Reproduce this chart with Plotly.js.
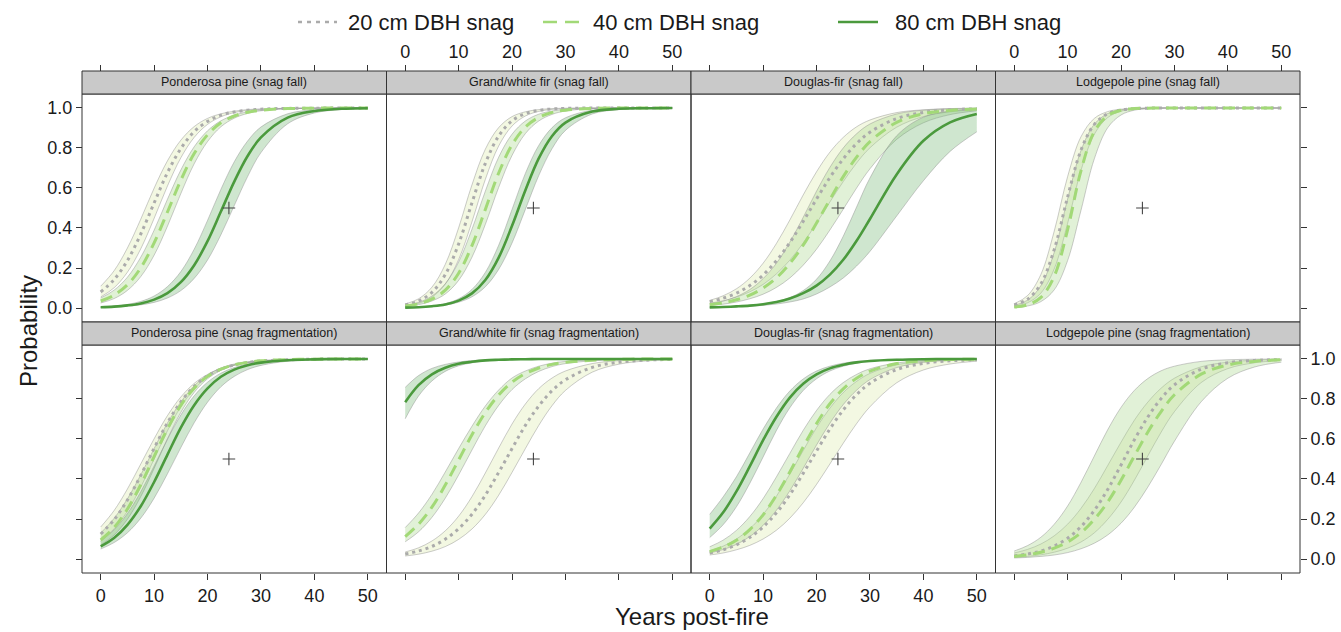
<!DOCTYPE html>
<html><head><meta charset="utf-8">
<script src="https://cdn.plot.ly/plotly-3.0.1.min.js"></script>
<style>html,body{margin:0;padding:0;background:#fff}#chart{width:1341px;height:632px}</style>
</head><body><div id="chart"></div>
<script>
// Years post-fire at which curves are read
const X = [0,2.5,5,7.5,10,12.5,15,17.5,20,22.5,25,27.5,30,35,40,45,50];

// Ponderosa pine (snag fall)
const pp_fall_20_mean = [0.080,0.142,0.237,0.370,0.525,0.677,0.797,0.882,0.933,0.964,0.980,0.989,0.994,0.998,0.999,1,1];
const pp_fall_20_hi   = [0.109,0.186,0.300,0.444,0.599,0.736,0.839,0.907,0.948,0.971,0.984,0.992,0.995,0.999,1,1,1];
const pp_fall_20_lo   = [0.055,0.101,0.179,0.296,0.448,0.610,0.751,0.853,0.918,0.956,0.977,0.988,0.994,0.998,0.999,1,1];
const pp_fall_40_mean = [0.035,0.064,0.116,0.201,0.326,0.480,0.639,0.772,0.866,0.926,0.960,0.979,0.989,0.997,0.999,1,1];
const pp_fall_40_hi   = [0.050,0.089,0.154,0.254,0.389,0.544,0.690,0.806,0.886,0.936,0.964,0.981,0.990,0.997,0.999,1,1];
const pp_fall_40_lo   = [0.025,0.047,0.088,0.157,0.264,0.409,0.572,0.721,0.832,0.906,0.949,0.973,0.986,0.996,0.999,1,1];
const pp_fall_80_mean = [0.004,0.007,0.013,0.023,0.042,0.074,0.129,0.214,0.334,0.482,0.632,0.760,0.853,0.952,0.985,0.996,0.999];
const pp_fall_80_hi   = [0.005,0.010,0.018,0.033,0.060,0.107,0.182,0.294,0.438,0.593,0.731,0.835,0.905,0.971,0.991,0.998,1];
const pp_fall_80_lo   = [0.003,0.005,0.009,0.016,0.028,0.050,0.087,0.148,0.240,0.366,0.512,0.657,0.777,0.921,0.975,0.992,0.998];

// Grand/white fir (snag fall)
const gw_fall_20_mean = [0.015,0.035,0.078,0.167,0.320,0.526,0.723,0.860,0.936,0.972,0.988,0.995,0.998,1,1,1,1];
const gw_fall_20_hi   = [0.020,0.046,0.104,0.218,0.401,0.616,0.794,0.902,0.957,0.981,0.992,0.997,0.999,1,1,1,1];
const gw_fall_20_lo   = [0.010,0.023,0.054,0.119,0.242,0.431,0.643,0.810,0.910,0.960,0.983,0.993,0.997,0.999,1,1,1];
const gw_fall_40_mean = [0.010,0.021,0.044,0.089,0.174,0.312,0.493,0.675,0.816,0.905,0.953,0.978,0.989,0.998,1,1,1];
const gw_fall_40_hi   = [0.013,0.028,0.060,0.121,0.230,0.394,0.584,0.754,0.869,0.935,0.969,0.985,0.993,0.999,1,1,1];
const gw_fall_40_lo   = [0.008,0.017,0.035,0.070,0.138,0.254,0.418,0.603,0.763,0.872,0.935,0.968,0.985,0.997,1,1,1];
const gw_fall_80_mean = [0.002,0.004,0.009,0.018,0.037,0.073,0.140,0.252,0.411,0.589,0.748,0.860,0.927,0.982,0.996,0.999,1];
const gw_fall_80_hi   = [0.002,0.005,0.011,0.022,0.046,0.093,0.178,0.314,0.493,0.673,0.813,0.902,0.951,0.989,0.997,1,1];
const gw_fall_80_lo   = [0.002,0.004,0.007,0.014,0.029,0.056,0.106,0.193,0.325,0.493,0.662,0.797,0.888,0.970,0.992,0.998,1];

// Douglas-fir (snag fall)
const df_fall_20_mean = [0.032,0.049,0.074,0.112,0.165,0.237,0.327,0.433,0.545,0.652,0.746,0.822,0.879,0.947,0.978,0.991,0.996];
const df_fall_20_hi   = [0.038,0.061,0.096,0.149,0.224,0.323,0.440,0.565,0.681,0.779,0.853,0.906,0.940,0.977,0.991,0.997,0.999];
const df_fall_20_lo   = [0.024,0.036,0.054,0.081,0.118,0.171,0.239,0.325,0.424,0.530,0.632,0.725,0.801,0.904,0.957,0.981,0.992];
const df_fall_40_mean = [0.016,0.026,0.041,0.064,0.100,0.151,0.223,0.314,0.425,0.542,0.657,0.754,0.832,0.928,0.971,0.988,0.995];
const df_fall_40_hi   = [0.021,0.034,0.057,0.092,0.147,0.224,0.329,0.453,0.584,0.703,0.800,0.871,0.920,0.970,0.989,0.996,0.998];
const df_fall_40_lo   = [0.012,0.019,0.030,0.046,0.069,0.103,0.150,0.214,0.294,0.390,0.494,0.600,0.696,0.843,0.926,0.967,0.986];
const df_fall_80_mean = [0.003,0.005,0.008,0.012,0.019,0.030,0.047,0.074,0.112,0.167,0.241,0.336,0.445,0.668,0.836,0.928,0.970];
const df_fall_80_hi   = [0.004,0.006,0.009,0.013,0.020,0.032,0.052,0.087,0.144,0.235,0.359,0.505,0.650,0.861,0.954,0.985,0.996];
const df_fall_80_lo   = [0.002,0.004,0.006,0.009,0.013,0.020,0.030,0.045,0.070,0.105,0.150,0.210,0.283,0.460,0.636,0.783,0.881];

// Lodgepole pine (snag fall)
const lp_fall_20_mean = [0.015,0.044,0.121,0.293,0.555,0.789,0.918,0.971,0.990,0.997,0.999,1,1,1,1,1,1];
const lp_fall_20_hi   = [0.021,0.062,0.168,0.385,0.657,0.856,0.948,0.982,0.994,0.998,1,1,1,1,1,1,1];
const lp_fall_20_lo   = [0.009,0.026,0.075,0.196,0.423,0.688,0.869,0.952,0.984,0.994,0.998,1,1,1,1,1,1];
const lp_fall_40_mean = [0.005,0.016,0.053,0.159,0.392,0.686,0.882,0.962,0.989,0.997,0.999,1,1,1,1,1,1];
const lp_fall_40_hi   = [0.013,0.039,0.112,0.279,0.545,0.787,0.919,0.972,0.991,0.997,1,1,1,1,1,1,1];
const lp_fall_40_lo   = [0.003,0.010,0.032,0.091,0.237,0.488,0.746,0.901,0.965,0.989,0.996,0.999,1,1,1,1,1];

// Ponderosa pine (snag fragmentation)
const pp_frag_20_mean = [0.125,0.196,0.295,0.418,0.554,0.681,0.786,0.863,0.916,0.949,0.970,0.982,0.990,0.996,0.999,1,1];
const pp_frag_20_hi   = [0.160,0.242,0.350,0.475,0.601,0.717,0.810,0.878,0.923,0.953,0.972,0.984,0.991,0.997,0.999,1,1];
const pp_frag_20_lo   = [0.090,0.151,0.239,0.359,0.500,0.641,0.761,0.849,0.910,0.947,0.969,0.981,0.989,0.995,0.998,1,1];
const pp_frag_40_mean = [0.095,0.157,0.250,0.371,0.512,0.650,0.768,0.854,0.913,0.949,0.971,0.983,0.991,0.997,0.999,1,1];
const pp_frag_40_hi   = [0.130,0.203,0.301,0.421,0.552,0.680,0.785,0.866,0.920,0.955,0.975,0.986,0.992,0.998,0.999,1,1];
const pp_frag_40_lo   = [0.070,0.120,0.199,0.312,0.453,0.601,0.733,0.833,0.901,0.943,0.968,0.982,0.990,0.997,0.999,1,1];
const pp_frag_80_mean = [0.063,0.105,0.171,0.264,0.385,0.522,0.657,0.769,0.853,0.911,0.947,0.969,0.982,0.994,0.998,1,1];
const pp_frag_80_hi   = [0.090,0.146,0.227,0.336,0.465,0.599,0.720,0.816,0.884,0.929,0.957,0.975,0.985,0.995,0.998,1,1];
const pp_frag_80_lo   = [0.050,0.082,0.131,0.204,0.304,0.426,0.557,0.681,0.784,0.861,0.913,0.947,0.968,0.989,0.996,0.999,1];

// Grand/white fir (snag fragmentation)
const gw_frag_20_mean = [0.025,0.040,0.063,0.099,0.151,0.224,0.319,0.433,0.552,0.668,0.765,0.842,0.896,0.958,0.984,0.994,0.998];
const gw_frag_20_hi   = [0.035,0.056,0.090,0.141,0.214,0.312,0.430,0.555,0.675,0.775,0.852,0.905,0.940,0.977,0.992,0.997,0.999];
const gw_frag_20_lo   = [0.015,0.024,0.039,0.062,0.098,0.150,0.223,0.319,0.433,0.552,0.668,0.767,0.843,0.934,0.974,0.990,0.996];
const gw_frag_40_mean = [0.112,0.174,0.259,0.370,0.495,0.621,0.732,0.820,0.884,0.927,0.955,0.973,0.983,0.994,0.998,1,1];
const gw_frag_40_hi   = [0.157,0.230,0.323,0.435,0.552,0.664,0.765,0.845,0.905,0.940,0.964,0.979,0.988,0.996,0.999,1,1];
const gw_frag_40_lo   = [0.086,0.136,0.208,0.304,0.420,0.545,0.666,0.768,0.847,0.901,0.938,0.962,0.977,0.991,0.997,0.999,1];
const gw_frag_80_mean = [0.784,0.869,0.923,0.956,0.976,0.986,0.993,0.996,0.998,0.999,1,1,1,1,1,1,1];
const gw_frag_80_hi   = [0.858,0.917,0.953,0.973,0.985,0.992,0.995,0.998,0.999,1,1,1,1,1,1,1,1];
const gw_frag_80_lo   = [0.701,0.815,0.890,0.938,0.966,0.981,0.990,0.995,0.997,0.999,1,1,1,1,1,1,1];

// Douglas-fir (snag fragmentation)
const df_frag_20_mean = [0.030,0.046,0.071,0.108,0.160,0.231,0.321,0.428,0.540,0.650,0.745,0.822,0.879,0.947,0.978,0.991,0.996];
const df_frag_20_hi   = [0.041,0.064,0.100,0.151,0.223,0.314,0.425,0.542,0.657,0.754,0.832,0.888,0.928,0.971,0.988,0.995,0.998];
const df_frag_20_lo   = [0.020,0.030,0.046,0.068,0.100,0.144,0.204,0.281,0.373,0.475,0.579,0.677,0.761,0.881,0.945,0.975,0.989];
const df_frag_40_mean = [0.037,0.060,0.094,0.147,0.221,0.319,0.435,0.560,0.677,0.776,0.851,0.904,0.939,0.977,0.991,0.997,0.999];
const df_frag_40_hi   = [0.061,0.094,0.143,0.212,0.302,0.411,0.528,0.643,0.743,0.823,0.882,0.923,0.951,0.980,0.992,0.997,0.999];
const df_frag_40_lo   = [0.030,0.047,0.073,0.112,0.168,0.244,0.341,0.453,0.570,0.679,0.772,0.844,0.897,0.957,0.983,0.993,0.997];
const df_frag_80_mean = [0.152,0.232,0.338,0.463,0.594,0.711,0.807,0.876,0.923,0.953,0.971,0.983,0.990,0.996,0.999,1,1];
const df_frag_80_hi   = [0.223,0.310,0.411,0.530,0.650,0.755,0.840,0.900,0.940,0.964,0.979,0.988,0.993,0.998,0.999,1,1];
const df_frag_80_lo   = [0.107,0.171,0.261,0.378,0.510,0.643,0.756,0.842,0.901,0.940,0.964,0.979,0.988,0.996,0.998,1,1];

// Lodgepole pine (snag fragmentation)
const lp_frag_20_mean = [0.015,0.025,0.040,0.065,0.104,0.162,0.243,0.348,0.470,0.596,0.709,0.802,0.871,0.949,0.981,0.993,0.997];
const lp_frag_20_hi   = [0.030,0.048,0.075,0.116,0.174,0.253,0.352,0.467,0.584,0.694,0.784,0.854,0.904,0.961,0.984,0.994,0.998];
const lp_frag_20_lo   = [0.008,0.013,0.021,0.034,0.054,0.085,0.131,0.198,0.285,0.394,0.515,0.634,0.737,0.882,0.952,0.981,0.993];
const lp_frag_40_mean = [0.013,0.021,0.034,0.054,0.085,0.131,0.198,0.285,0.394,0.515,0.634,0.737,0.821,0.924,0.970,0.988,0.996];
const lp_frag_40_hi   = [0.040,0.067,0.109,0.174,0.265,0.383,0.515,0.646,0.758,0.843,0.902,0.941,0.964,0.988,0.996,0.999,1];
const lp_frag_40_lo   = [0.005,0.008,0.013,0.020,0.032,0.051,0.079,0.120,0.179,0.259,0.359,0.472,0.589,0.786,0.904,0.960,0.984];

const panelTitles = [
  "Ponderosa pine (snag fall)", "Grand/white fir (snag fall)", "Douglas-fir (snag fall)", "Lodgepole pine (snag fall)",
  "Ponderosa pine (snag fragmentation)", "Grand/white fir (snag fragmentation)", "Douglas-fir (snag fragmentation)", "Lodgepole pine (snag fragmentation)"
];
const sizeLabels = ["20 cm DBH snag", "40 cm DBH snag", "80 cm DBH snag"];
const xTicks = [0, 10, 20, 30, 40, 50];
const yTicks = [0, 0.2, 0.4, 0.6, 0.8, 1.0];
const refX = [24];
const refY = [0.5];

// [lo, mean, hi] per size, per panel
const panelSeries = [
  [[pp_fall_20_lo, pp_fall_20_mean, pp_fall_20_hi], [pp_fall_40_lo, pp_fall_40_mean, pp_fall_40_hi], [pp_fall_80_lo, pp_fall_80_mean, pp_fall_80_hi]],
  [[gw_fall_20_lo, gw_fall_20_mean, gw_fall_20_hi], [gw_fall_40_lo, gw_fall_40_mean, gw_fall_40_hi], [gw_fall_80_lo, gw_fall_80_mean, gw_fall_80_hi]],
  [[df_fall_20_lo, df_fall_20_mean, df_fall_20_hi], [df_fall_40_lo, df_fall_40_mean, df_fall_40_hi], [df_fall_80_lo, df_fall_80_mean, df_fall_80_hi]],
  [[lp_fall_20_lo, lp_fall_20_mean, lp_fall_20_hi], [lp_fall_40_lo, lp_fall_40_mean, lp_fall_40_hi], null],
  [[pp_frag_20_lo, pp_frag_20_mean, pp_frag_20_hi], [pp_frag_40_lo, pp_frag_40_mean, pp_frag_40_hi], [pp_frag_80_lo, pp_frag_80_mean, pp_frag_80_hi]],
  [[gw_frag_20_lo, gw_frag_20_mean, gw_frag_20_hi], [gw_frag_40_lo, gw_frag_40_mean, gw_frag_40_hi], [gw_frag_80_lo, gw_frag_80_mean, gw_frag_80_hi]],
  [[df_frag_20_lo, df_frag_20_mean, df_frag_20_hi], [df_frag_40_lo, df_frag_40_mean, df_frag_40_hi], [df_frag_80_lo, df_frag_80_mean, df_frag_80_hi]],
  [[lp_frag_20_lo, lp_frag_20_mean, lp_frag_20_hi], [lp_frag_40_lo, lp_frag_40_mean, lp_frag_40_hi], null]
];

const FONT = '"Liberation Sans", Arial, Helvetica, sans-serif';
const styles = [
  {line: {color: '#ababab', width: 3, dash: '3px,4px'}, fill: 'rgba(226,238,186,0.42)'},
  {line: {color: '#a2d977', width: 3, dash: '12px,7px'}, fill: 'rgba(170,215,140,0.35)'},
  {line: {color: '#4b9a3d', width: 2.6}, fill: 'rgba(110,180,110,0.33)'}
];
const edgeLine = {color: 'rgba(140,140,140,0.75)', width: 0.6, shape: 'spline', smoothing: 1};

const PANEL_H = 0.4542, STRIP_H = 0.0458;
const ML = 82, MR = 41, MT = 71, MB = 59, W = 1341, H = 632;
const PW = W - ML - MR, PH = H - MT - MB;
const px2x = p => (p - ML) / PW;
const px2y = p => (H - MB - p) / PH;

const traces = [];
const layout = {
  width: W, height: H,
  margin: {l: ML, r: MR, t: MT, b: MB},
  paper_bgcolor: '#fff', plot_bgcolor: '#fff',
  font: {family: FONT, color: '#1a1a1a'},
  showlegend: false,
  shapes: [], annotations: []
};

for (let i = 0; i < 8; i++) {
  const row = i < 4 ? 0 : 1;
  const col = i % 4;
  const n = i + 1;
  const xa = 'x' + n, ya = 'y' + n;
  const x0 = col * 0.25, x1 = (col + 1) * 0.25;
  const y0 = row === 0 ? 1 - STRIP_H - PANEL_H : 0;
  const y1 = y0 + PANEL_H;

  const showXLabels = row === 0 ? (col === 1 || col === 3) : (col === 0 || col === 2);
  layout['xaxis' + n] = {
    domain: [x0, x1], range: [-3.5, 53.5], tickvals: xTicks, ticks: 'outside', ticklen: 6,
    tickcolor: '#333', tickwidth: 1, showticklabels: showXLabels,
    side: row === 0 ? 'top' : 'bottom', anchor: 'free', position: row === 0 ? 1 : 0,
    showgrid: false, zeroline: false, showline: false, fixedrange: true,
    tickfont: {size: 18, family: FONT, color: '#1a1a1a'}
  };
  const yAx = {
    domain: [y0, y1], range: [-0.07, 1.07], tickvals: yTicks, tickformat: '.1f',
    showgrid: false, zeroline: false, showline: false, fixedrange: true,
    tickfont: {size: 18, family: FONT, color: '#1a1a1a'}, tickcolor: '#333', tickwidth: 1, ticklen: 6
  };
  if (col === 0) {
    Object.assign(yAx, {side: 'left', anchor: 'free', position: 0, ticks: 'outside', showticklabels: row === 0});
  } else if (col === 3) {
    Object.assign(yAx, {side: 'right', anchor: 'free', position: 1, ticks: 'outside', showticklabels: row === 1});
  } else {
    Object.assign(yAx, {anchor: xa, ticks: '', showticklabels: false});
  }
  layout['yaxis' + n] = yAx;

  const series = panelSeries[i];
  // confidence bands
  series.forEach((s, k) => {
    if (!s) return;
    traces.push({x: X, y: s[0], xaxis: xa, yaxis: ya, mode: 'lines', line: edgeLine,
                 showlegend: false, hoverinfo: 'skip'});
    traces.push({x: X, y: s[2], xaxis: xa, yaxis: ya, mode: 'lines', line: edgeLine,
                 fill: 'tonexty', fillcolor: styles[k].fill, showlegend: false, hoverinfo: 'skip'});
  });
  // mean lines
  series.forEach((s, k) => {
    if (!s) return;
    traces.push({x: X, y: s[1], xaxis: xa, yaxis: ya, mode: 'lines',
                 line: Object.assign({shape: 'spline', smoothing: 1}, styles[k].line),
                 name: sizeLabels[k], showlegend: false});
  });
  // reference cross
  traces.push({x: refX, y: refY, xaxis: xa, yaxis: ya, mode: 'markers',
               marker: {symbol: 'cross-thin', size: 9, color: '#444', line: {color: '#444', width: 1.1}},
               showlegend: false, hoverinfo: 'skip'});

  // panel border
  layout.shapes.push({type: 'rect', xref: 'paper', yref: 'paper', x0: x0, x1: x1, y0: y0, y1: y1,
                      line: {color: '#333', width: 1}, fillcolor: 'rgba(0,0,0,0)', layer: 'above'});
  // strip
  layout.shapes.push({type: 'rect', xref: 'paper', yref: 'paper', x0: x0, x1: x1, y0: y1, y1: y1 + STRIP_H,
                      line: {color: '#333', width: 1}, fillcolor: '#c9c9c9', layer: 'above'});
  layout.annotations.push({xref: 'paper', yref: 'paper', x: (x0 + x1) / 2, y: y1 + STRIP_H / 2,
                           text: panelTitles[i], showarrow: false, xanchor: 'center', yanchor: 'middle',
                           font: {size: 12.5, family: FONT, color: '#1a1a1a'}});
}

// key at the top
const keySample = [[298, 337], [543, 579], [838, 878]];
const keyTextX = [346, 591, 893];
const keyY = 22;
sizeLabels.forEach((lab, k) => {
  const ln = styles[k].line;
  layout.shapes.push({type: 'line', xref: 'paper', yref: 'paper',
    x0: px2x(keySample[k][0]), x1: px2x(keySample[k][1]), y0: px2y(keyY), y1: px2y(keyY),
    line: {color: ln.color, width: 2.6, dash: k === 0 ? '4px,5px' : (k === 1 ? '14px,8px' : 'solid')}});
  layout.annotations.push({xref: 'paper', yref: 'paper', x: px2x(keyTextX[k]), y: px2y(keyY),
    text: lab, showarrow: false, xanchor: 'left', yanchor: 'middle',
    font: {size: 22, family: FONT, color: '#1a1a1a'}});
});

layout.annotations.push({xref: 'paper', yref: 'paper', x: px2x(28), y: px2y(331), text: 'Probability',
  textangle: -90, showarrow: false, xanchor: 'center', yanchor: 'middle',
  font: {size: 24, family: FONT, color: '#1a1a1a'}});
layout.annotations.push({xref: 'paper', yref: 'paper', x: px2x(692), y: px2y(616), text: 'Years post-fire',
  showarrow: false, xanchor: 'center', yanchor: 'middle',
  font: {size: 24, family: FONT, color: '#1a1a1a'}});

Plotly.newPlot('chart', traces, layout, {displayModeBar: false, staticPlot: true});
</script>
</body></html>
